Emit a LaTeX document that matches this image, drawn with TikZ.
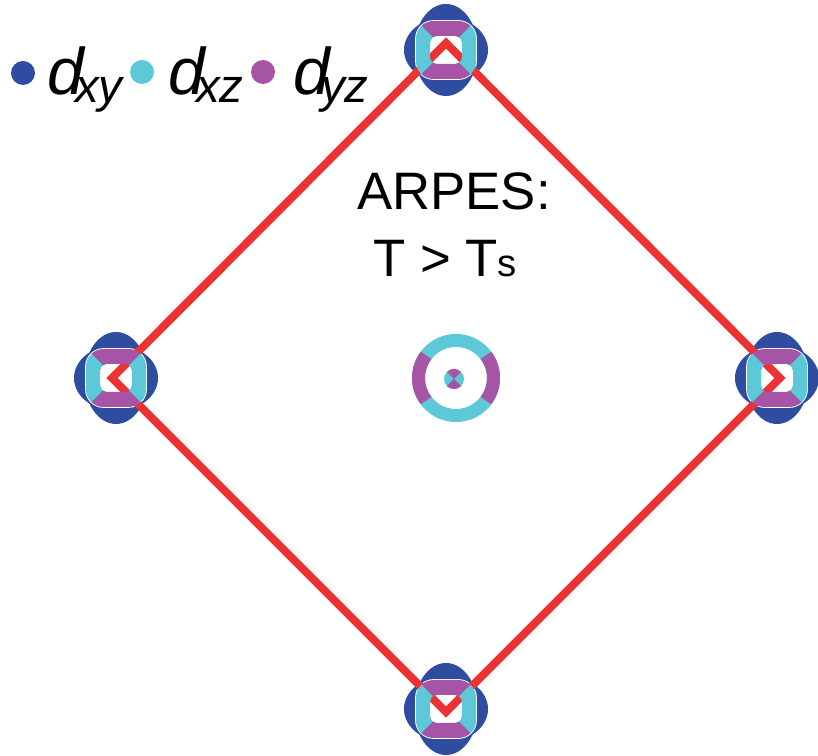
\documentclass[tikz,border=0pt]{standalone}
\usepackage{fontspec}
\setmainfont{Liberation Sans}
\usetikzlibrary{calc}
\usepackage{xcolor}

\definecolor{dxy}{RGB}{46,76,160}
\definecolor{dxz}{RGB}{92,200,216}
\definecolor{dyz}{RGB}{166,84,166}
\definecolor{bzred}{RGB}{236,50,50}

\newcommand{\orb}[1]{\textit{d}\kern-6pt\raisebox{-4pt}{\fontsize{27}{30}\selectfont\textit{#1}}}

\tikzset{
  pocket blue/.pic={
    \fill[dxy] (0,0) ellipse [x radius=42, y radius=33]
               (0,0) ellipse [x radius=32, y radius=46];
    \draw[white, line width=1pt, rounded corners=10pt] (-30,-29) rectangle (30,29);
    \fill[white, rounded corners=4pt] (-16,-14) rectangle (16,14);
  },
  pocket ring/.pic={
    % left and right sides
    \begin{scope}
      \clip (-45,-45) -- (0,0) -- (-45,45) -- cycle (45,-45) -- (0,0) -- (45,45) -- cycle;
      \fill[dxz, even odd rule, rounded corners=10pt] (-30,-29) rectangle (30,29)
        [rounded corners=4pt] (-16,-14) rectangle (16,14);
    \end{scope}
    % top and bottom sides
    \begin{scope}
      \clip (-45,45) -- (0,0) -- (45,45) -- cycle (-45,-45) -- (0,0) -- (45,-45) -- cycle;
      \fill[dyz, even odd rule, rounded corners=10pt] (-30,-29) rectangle (30,29)
        [rounded corners=4pt] (-16,-14) rectangle (16,14);
    \end{scope}
  }
}

\begin{document}
\begin{tikzpicture}[x=0.02cm, y=0.02cm,
  legdot/.style={circle, inner sep=0pt, minimum size=0.48cm},
  legtext/.style={anchor=base west, inner sep=0pt, font=\fontsize{37.5}{40}\selectfont},
  bigtext/.style={anchor=base west, inner sep=0pt, font=\fontsize{30}{36}\selectfont}]
  \useasboundingbox (0,0) rectangle (818,756);

  % zone corners
  \coordinate (top) at (446,713);
  \coordinate (left) at (112,378);
  \coordinate (right) at (780,378);
  \coordinate (bottom) at (446,44);

  % electron pockets at the corners
  \foreach \p in {(446,706), (116,378), (777,378), (446,47)}
    \pic at \p {pocket blue};

  % zone boundary
  \draw[bzred, line width=4.5pt, line join=miter] (top) -- (right) -- (bottom) -- (left) -- cycle;

  \foreach \p in {(446,706), (116,378), (777,378), (446,47)}
    \pic at \p {pocket ring};

  % hole pocket in the centre
  \coordinate (gamma) at (456,378);
  \draw[dxz, line width=7.4pt] (gamma) circle [radius=37.5];
  \draw[dyz, line width=7.4pt] ($(gamma)+(-37:37.5)$) arc (-37:37:37.5);
  \draw[dyz, line width=7.4pt] ($(gamma)+(143:37.5)$) arc (143:217:37.5);
  \coordinate (dot) at (454,377);
  \fill[dxz] (dot) circle [radius=10];
  \fill[dyz] (dot) -- ++(45:10) arc (45:135:10) -- cycle;
  \fill[dyz] (dot) -- ++(225:10) arc (225:315:10) -- cycle;

  % legend
  \node[legdot, fill=dxy] (dot-xy) at (23,683) {};
  \node[legtext] (lab-xy) at (47,661) {\orb{xy}};
  \node[legdot, fill=dxz] (dot-xz) at (142,684) {};
  \node[legtext] (lab-xz) at (168,661) {\orb{xz}};
  \node[legdot, fill=dyz] (dot-yz) at (263,684) {};
  \node[legtext] (lab-yz) at (293,661) {\orb{yz}};

  % labels
  \node[bigtext] (arpes) at (357,546) {ARPES:};
  \node[bigtext] (temp) at (373,479) {T > T{\fontsize{21.8}{24}\selectfont s}};
\end{tikzpicture}
\end{document}
